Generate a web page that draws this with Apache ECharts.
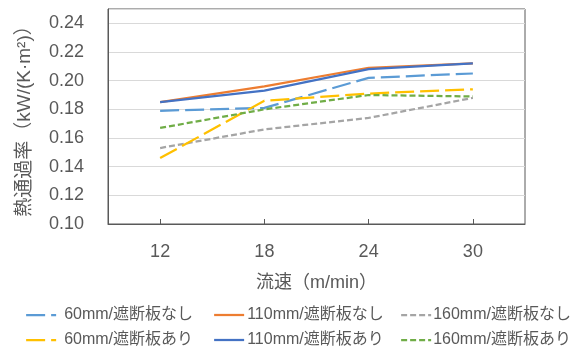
<!DOCTYPE html>
<html><head><meta charset="utf-8">
<script src="https://cdn.jsdelivr.net/npm/echarts@6/dist/echarts.min.js"></script>
<style>html,body{margin:0;padding:0;background:#fff}#c{width:579px;height:350px}</style>
</head><body><div id="c"></div>
<script>
const categories = ['12', '18', '24', '30'];
const names = ['60mm/遮断板なし', '110mm/遮断板なし', '160mm/遮断板なし', '60mm/遮断板あり', '110mm/遮断板あり', '160mm/遮断板あり'];
const s60nashi = [0.179, 0.181, 0.202, 0.205];
const s110nashi = [0.185, 0.196, 0.209, 0.212];
const s160nashi = [0.153, 0.166, 0.174, 0.188];
const s60ari = [0.146, 0.186, 0.191, 0.194];
const s110ari = [0.185, 0.193, 0.208, 0.212];
const s160ari = [0.167, 0.180, 0.190, 0.189];
const yTicks = { min: 0.10, max: 0.25, interval: 0.02 };

const values = [s60nashi, s110nashi, s160nashi, s60ari, s110ari, s160ari];
const colors = ['#5B9BD5', '#ED7D31', '#A5A5A5', '#FFC000', '#4472C4', '#70AD47'];
const dashes = [[19, 6], 'solid', [6, 3], [19, 6], 'solid', [6, 3]];
const txt = '#595959';
const font = "'Liberation Sans', 'Noto Sans CJK JP', sans-serif";

const legendPos = [
  { left: 25, top: 307 }, { left: 213, top: 307 }, { left: 400, top: 307 },
  { left: 25, top: 332 }, { left: 213, top: 332 }, { left: 400, top: 332 }
];
const textPad = [[0, 0, 0, 3], [0, 0, 0, -2], [0, 0, 0, -3], [0, 0, 0, 3], [0, 0, 0, -2], [0, 0, 0, -3]];

const chart = echarts.init(document.getElementById('c'));
chart.setOption({
  animation: false,
  backgroundColor: '#fff',
  grid: { left: 108, right: 54, top: 9, bottom: 126, show: true, borderColor: '#595959', borderWidth: 1, backgroundColor: 'transparent' },
  legend: names.map((n, i) => ({
    data: [n], left: legendPos[i].left, top: legendPos[i].top, padding: 0,
    itemWidth: 30, itemHeight: 16,
    itemStyle: { opacity: 0 },
    lineStyle: { width: 2.25 },
    textStyle: { color: txt, fontSize: 16, fontFamily: font, padding: textPad[i] }
  })),
  xAxis: {
    type: 'category', data: categories, boundaryGap: true,
    name: '流速（m/min）', nameLocation: 'middle', nameGap: 50,
    nameTextStyle: { color: txt, fontSize: 18, fontFamily: font },
    axisLine: { lineStyle: { color: '#595959', width: 1 } },
    axisTick: { show: true, alignWithLabel: true, inside: true, length: 5, lineStyle: { color: '#595959' } },
    axisLabel: { color: txt, fontSize: 18, fontFamily: font, margin: 19 },
    splitLine: { show: false }
  },
  yAxis: {
    type: 'value', min: yTicks.min, max: yTicks.max, interval: yTicks.interval,
    name: '熱通過率（kW/(K·m²)）', nameLocation: 'middle', nameGap: 74, nameRotate: 90,
    nameTextStyle: { color: txt, fontSize: 19, fontFamily: font },
    axisLine: { show: true, lineStyle: { color: '#595959' } },
    axisTick: { show: false },
    axisLabel: { color: txt, fontSize: 18, fontFamily: font, margin: 24, showMaxLabel: false,
      formatter: v => v.toFixed(2) },
    splitLine: { show: true, lineStyle: { color: '#D9D9D9', width: 1 } }
  },
  series: names.map((n, i) => ({
    name: n, type: 'line', data: values[i], symbol: 'none', smooth: false,
    color: colors[i],
    lineStyle: { color: colors[i], width: 2.25, type: dashes[i], cap: 'butt' }
  }))
});
</script></body></html>
